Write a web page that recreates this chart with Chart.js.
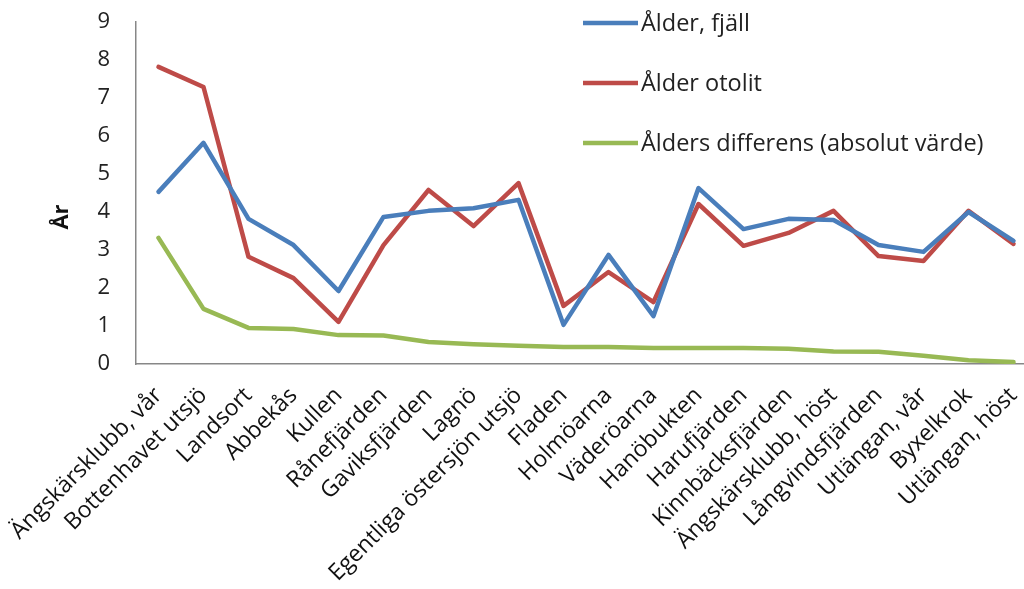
<!DOCTYPE html>
<html><head><meta charset="utf-8">
<script src="https://cdn.jsdelivr.net/npm/chart.js@4/dist/chart.umd.min.js"></script>
<style>html,body{margin:0;padding:0;background:#fff;overflow:hidden;width:1024px;height:589px}#wrap{width:1040px;height:589px}</style>
</head><body><div id="wrap"><canvas id="c" width="1040" height="589"></canvas></div>
<script>
const categories = ["Ängskärsklubb, vår","Bottenhavet utsjö","Landsort","Abbekås","Kullen","Rånefjärden","Gaviksfjärden","Lagnö","Egentliga östersjön utsjö","Fladen","Holmöarna","Väderöarna","Hanöbukten","Harufjärden","Kinnbäcksfjärden","Ängskärsklubb, höst","Långvindsfjärden","Utlängan, vår","Byxelkrok","Utlängan, höst"];
const alderFjall = [4.53,5.82,3.82,3.13,1.92,3.87,4.03,4.10,4.32,1.03,2.87,1.26,4.63,3.55,3.82,3.79,3.13,2.95,4.00,3.24];
const alderOtolit = [7.82,7.29,2.82,2.26,1.11,3.13,4.58,3.63,4.76,1.53,2.42,1.63,4.21,3.11,3.45,4.03,2.84,2.71,4.03,3.16];
const alderDiff = [3.32,1.45,0.95,0.92,0.76,0.75,0.58,0.52,0.48,0.45,0.45,0.42,0.42,0.42,0.40,0.33,0.32,0.22,0.10,0.05];
const seriesNames = ["Ålder, fjäll","Ålder otolit","Ålders differens (absolut värde)"];
const colors = ["#4A7EBB","#BE4B48","#98B954"];
const yTicks = [0,1,2,3,4,5,6,7,8,9];
const yTitle = "År";
const FONT = "'Open Sans', sans-serif";

const legendPlugin = {
  id: 'customLegend',
  afterDatasetsDraw(chart) {
    const ctx = chart.ctx;
    ctx.save();
    const x0 = 583, x1 = 638, ys = [23, 83, 143];
    chart.data.datasets.forEach((ds, i) => {
      ctx.strokeStyle = ds.borderColor;
      ctx.lineWidth = 4.5;
      ctx.beginPath(); ctx.moveTo(x0, ys[i]); ctx.lineTo(x1, ys[i]); ctx.stroke();
      ctx.fillStyle = '#222';
      ctx.font = "23.5px " + FONT;
      ctx.textBaseline = 'middle';
      ctx.fillText(ds.label, x1 + 3, ys[i] + 1);
    });
    // y-axis title
    ctx.translate(62, 217);
    ctx.rotate(-Math.PI / 2);
    ctx.font = "bold 22px " + FONT;
    ctx.fillStyle = '#111';
    ctx.textAlign = 'center';
    ctx.textBaseline = 'middle';
    ctx.fillText(yTitle, 0, 0);
    ctx.restore();
  }
};

new Chart(document.getElementById('c'), {
  type: 'line',
  data: {
    labels: categories,
    datasets: [
      {label: seriesNames[0], data: alderFjall, borderColor: colors[0]},
      {label: seriesNames[1], data: alderOtolit, borderColor: colors[1]},
      {label: seriesNames[2], data: alderDiff, borderColor: colors[2]}
    ].map(d => Object.assign(d, {borderWidth: 4.5, pointRadius: 0, tension: 0, fill: false, borderCapStyle: 'round', borderJoinStyle: 'round'}))
  },
  options: {
    responsive: false,
    animation: false,
    layout: {padding: {top: 22, right: 4, left: 0, bottom: 0}},
    plugins: {legend: {display: false}, tooltip: {enabled: false}},
    scales: {
      x: {
        offset: true,
        grid: {display: false, drawTicks: false},
        border: {display: true, color: '#878787', width: 1.5},
        ticks: {autoSkip: false, maxRotation: 45, minRotation: 45, padding: 18, color: '#111', font: {family: FONT, size: 23}},
        afterFit(s) { s.height = 225; s.paddingLeft = 0; s.paddingRight = 0; }
      },
      y: {
        min: 0, max: 9,
        afterBuildTicks(s) { s.ticks = yTicks.map(v => ({value: v})); },
        grid: {display: false, drawTicks: true, tickLength: 26},
        border: {display: true, color: '#878787', width: 1.5},
        ticks: {padding: 0, color: '#222', font: {family: FONT, size: 22}},
        afterFit(s) { s.width = 136; }
      }
    }
  },
  plugins: [legendPlugin]
});
</script>
</body></html>
